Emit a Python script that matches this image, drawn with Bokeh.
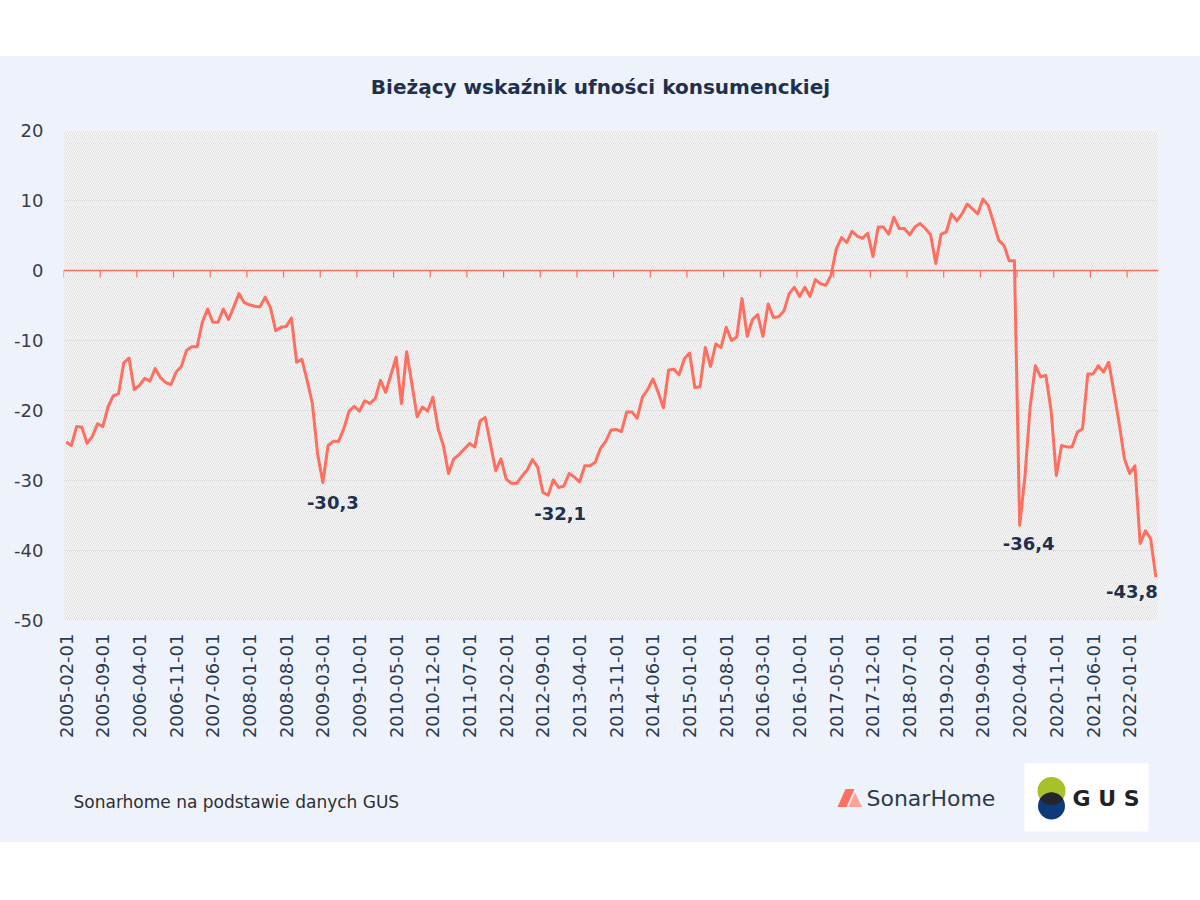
import numpy as np
import pandas as pd
from bokeh.plotting import figure
from bokeh.models import Range1d, FixedTicker, Span, BoxAnnotation, Label, Spacer
from bokeh.layouts import column
from bokeh.embed import file_html
from bokeh.resources import INLINE
from bokeh.core.properties import value

# ---------------- data ----------------
title_text = "Bieżący wskaźnik ufności konsumenckiej"
source_text = "Sonarhome na podstawie danych GUS"
start_month = "2005-02-01"

values = [
    -24.5, -25.0, -22.3, -22.4, -24.7, -23.7, -21.9, -22.3, -19.5, -17.9,
    -17.6, -13.2, -12.5, -17.0, -16.4, -15.4, -15.8, -14.0, -15.3, -16.0,
    -16.3, -14.5, -13.7, -11.4, -10.9, -10.9, -7.4, -5.5, -7.4, -7.4,
    -5.5, -7.0, -5.2, -3.3, -4.6, -4.9, -5.1, -5.2, -3.8, -5.3,
    -8.6, -8.1, -8.0, -6.8, -13.1, -12.7, -15.7, -19.0, -26.2, -30.3,
    -25.0, -24.4, -24.4, -22.6, -20.1, -19.4, -20.1, -18.6, -19.0, -18.3,
    -15.7, -17.4, -14.9, -12.4, -19.0, -11.6, -16.2, -20.9, -19.5, -20.1,
    -18.1, -22.6, -25.0, -29.0, -26.9, -26.3, -25.5, -24.7, -25.2, -21.5,
    -21.0, -24.8, -28.6, -26.9, -29.8, -30.4, -30.4, -29.4, -28.5, -27.0,
    -28.1, -31.7, -32.1, -29.9, -31.0, -30.8, -29.0, -29.5, -30.2, -27.9,
    -27.9, -27.4, -25.4, -24.4, -22.8, -22.7, -23.0, -20.2, -20.2, -21.1,
    -18.1, -17.0, -15.5, -17.4, -19.6, -14.2, -14.1, -14.9, -12.6, -11.8,
    -16.7, -16.6, -11.0, -13.7, -10.5, -11.0, -8.1, -10.0, -9.5, -4.0,
    -9.4, -7.0, -6.3, -9.4, -4.8, -6.7, -6.6, -5.8, -3.3, -2.4,
    -3.7, -2.4, -3.7, -1.3, -1.9, -2.1, -0.7, 3.1, 4.7, 4.0,
    5.6, 4.9, 4.6, 5.3, 2.0, 6.2, 6.2, 5.2, 7.6, 6.0,
    6.0, 5.1, 6.2, 6.7, 6.0, 5.1, 1.0, 5.2, 5.5, 8.1,
    7.1, 8.1, 9.5, 8.8, 8.1, 10.2, 9.3, 6.9, 4.3, 3.6,
    1.4, 1.4, -36.4, -29.5, -19.5, -13.6, -15.2, -15.0, -20.0, -29.3,
    -25.0, -25.2, -25.2, -23.1, -22.6, -14.8, -14.8, -13.6, -14.5, -13.1,
    -17.4, -21.9, -26.9, -29.0, -27.9, -39.0, -37.2, -38.3, -43.8,
]

dates = pd.date_range(start_month, periods=len(values), freq="MS").strftime("%Y-%m-%d").tolist()

x_tick_labels = [
    "2005-02-01", "2005-09-01", "2006-04-01", "2006-11-01", "2007-06-01",
    "2008-01-01", "2008-08-01", "2009-03-01", "2009-10-01", "2010-05-01",
    "2010-12-01", "2011-07-01", "2012-02-01", "2012-09-01", "2013-04-01",
    "2013-11-01", "2014-06-01", "2015-01-01", "2015-08-01", "2016-03-01",
    "2016-10-01", "2017-05-01", "2017-12-01", "2018-07-01", "2019-02-01",
    "2019-09-01", "2020-04-01", "2020-11-01", "2021-06-01", "2022-01-01",
]
y_ticks = [-50, -40, -30, -20, -10, 0, 10, 20]
y_tick_labels = ["-50", "-40", "-30", "-20", "-10", "0", "10", "20"]
annotated_dates = ["2009-03-01", "2012-10-01", "2020-04-01", "2022-06-01"]

# ---------------- styles ----------------
PANEL = "#EEF2FA"
LINE = "#FF6E5E"
NAVY = "#1F2F4C"
FONT = "DejaVu Sans"
W = 1200
BL, BR = 63, 42          # frame borders (left / right), shared by the column

idx = list(range(len(values)))
x_tick_pos = [dates.index(d) for d in x_tick_labels]
boundary = [i - 0.5 for i in x_tick_pos]


def blank_fig(h):
    # frames in a column are aligned, so map x in page pixels over the frame
    f = figure(width=W, height=h, x_range=Range1d(BL, W - BR), y_range=Range1d(0, h),
               output_backend="svg", toolbar_location=None,
               min_border_left=BL, min_border_right=BR, min_border_top=0, min_border_bottom=0,
               x_axis_type=None, y_axis_type=None)
    f.grid.visible = False
    f.outline_line_color = None
    f.background_fill_alpha = 0
    f.border_fill_color = PANEL
    return f

# ---------------- header ----------------
head = blank_fig(64)
head.add_layout(Label(x=W / 2, y=34, text=title_text, text_font=FONT, text_font_style="bold",
                      text_font_size="20px", text_color=NAVY, text_align="center",
                      text_baseline="middle"))

# ---------------- main chart ----------------
p = figure(width=W, height=632, x_range=Range1d(-0.5, len(values) - 0.5),
           y_range=Range1d(min(y_ticks), max(y_ticks)),
           output_backend="svg", toolbar_location=None,
           min_border_left=BL, min_border_right=BR, min_border_top=10, min_border_bottom=132)
p.background_fill_color = "#FAFAFA"
p.border_fill_color = PANEL
p.outline_line_color = None

p.add_layout(BoxAnnotation(level="image", fill_alpha=0, line_alpha=0,
                           hatch_pattern="left_diagonal_line", hatch_color="#D4D4D4",
                           hatch_scale=4, hatch_weight=0.7, hatch_alpha=1.0))

p.xgrid.grid_line_color = None
p.ygrid.ticker = FixedTicker(ticks=y_ticks)
p.ygrid.grid_line_color = "#E1E1E1"
p.ygrid.grid_line_width = 1

p.yaxis.ticker = FixedTicker(ticks=y_ticks)
p.yaxis.major_label_overrides = {t: s for t, s in zip(y_ticks, y_tick_labels)}
p.yaxis.axis_line_color = None
p.yaxis.major_tick_line_color = None
p.yaxis.minor_tick_line_color = None
p.yaxis.major_tick_out = 0
p.yaxis.major_tick_in = 0
p.yaxis.major_label_standoff = 20
p.yaxis.major_label_text_font = FONT
p.yaxis.major_label_text_font_size = "18px"
p.yaxis.major_label_text_color = "#3A3D45"

p.xaxis.ticker = FixedTicker(ticks=x_tick_pos)
p.xaxis.major_label_overrides = {i: s for i, s in zip(x_tick_pos, x_tick_labels)}
p.xaxis.axis_line_color = None
p.xaxis.major_tick_line_color = None
p.xaxis.minor_tick_line_color = None
p.xaxis.major_tick_out = 0
p.xaxis.major_tick_in = 0
p.xaxis.major_label_standoff = 13
p.xaxis.major_label_orientation = np.pi / 2
p.xaxis.major_label_text_font = FONT
p.xaxis.major_label_text_font_size = "18px"
p.xaxis.major_label_text_color = "#2A3A52"

# zero line with category ticks
p.add_layout(Span(location=0, dimension="width", line_color=LINE, line_width=1.5))
p.segment(x0=boundary, y0=[0] * len(boundary), x1=boundary, y1=[-1] * len(boundary),
          line_color=LINE, line_width=1.2)

p.line(idx, values, line_color=LINE, line_width=3, line_join="round")

label_dx = [10, 12, 9, 2]
label_dy = [-13, -12, -12, -8]
label_align = ["center", "center", "center", "right"]
for d, dx, dy, al in zip(annotated_dates, label_dx, label_dy, label_align):
    i = dates.index(d)
    v = values[i]
    p.add_layout(Label(x=i, y=v, x_offset=dx, y_offset=dy,
                       text=f"{v:.1f}".replace(".", ","),
                       text_font=FONT, text_font_style="bold", text_font_size="18px",
                       text_color=NAVY, text_align=al, text_baseline="top"))

# ---------------- footer ----------------
foot = blank_fig(90)
foot.add_layout(Label(x=73, y=41, text=source_text, text_font=FONT, text_font_size="17px",
                      text_color="#2E2E33", text_align="left", text_baseline="middle"))
# SonarHome logo
foot.patch([837, 845, 854, 846], [35.5, 53.5, 53.5, 35.5], fill_color="#FF6E5E", line_color=None)
foot.patch([848, 854.5, 861.5], [35.5, 50, 35.5], fill_color="#FFA297", line_color=None)
foot.add_layout(Label(x=866, y=44, text="SonarHome", text_font=FONT, text_font_size="22px",
                      text_color="#2C3A4E", text_align="left", text_baseline="middle"))
# GUS logo
foot.quad(left=[1024], right=[1148], bottom=[11], top=[79], fill_color="white", line_color=None)
cx, ya, ra, yb, rb = 1051, 51.5, 14, 36.5, 13.5
foot.circle(x=[cx], y=[ya], radius=ra, fill_color="#A6C12A", line_color=None)
foot.circle(x=[cx], y=[yb], radius=rb, fill_color="#0F3A78", line_color=None)
dd = ya - yb
a = (ra ** 2 - rb ** 2 + dd ** 2) / (2 * dd)
h = np.sqrt(ra ** 2 - a ** 2)
ta = np.arcsin(h / ra)
tb = np.arcsin(h / rb)
th1 = np.linspace(-ta, ta, 30)
th2 = np.linspace(tb, -tb, 30)
lx = np.concatenate([cx + ra * np.sin(th1), cx + rb * np.sin(th2)])
ly = np.concatenate([ya - ra * np.cos(th1), yb + rb * np.cos(th2)])
foot.patch(lx, ly, fill_color="#23252B", line_color=None)
foot.add_layout(Label(x=1072, y=44, text="G U S", text_font=FONT, text_font_style="bold",
                      text_font_size="22px", text_color="#222226", text_align="left",
                      text_baseline="middle"))

panel = column(head, p, foot, spacing=0, styles={"background-color": PANEL})
layout = column(Spacer(width=W, height=56), panel, spacing=0)

with open("out.html", "w") as fh:
    fh.write(file_html(layout, INLINE))
